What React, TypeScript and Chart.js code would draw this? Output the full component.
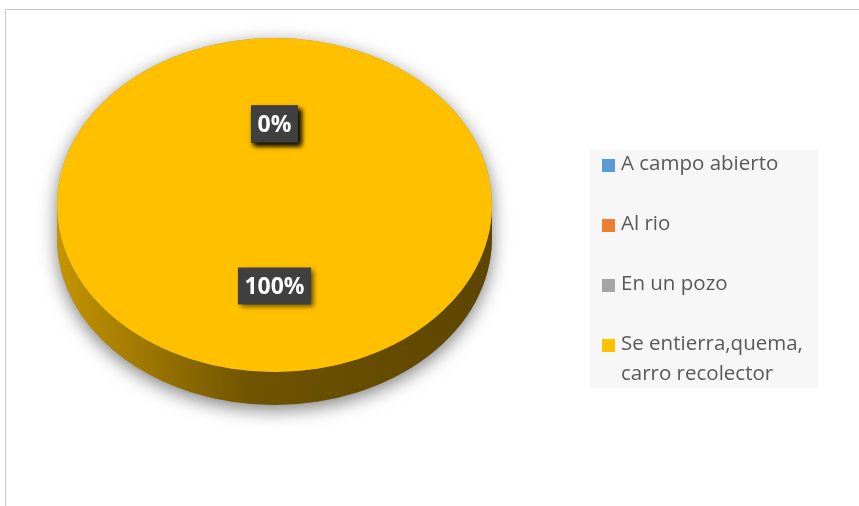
import React, { useEffect, useRef } from "react";
import { Chart, registerables } from "chart.js";

Chart.register(...registerables);

const categories = ["A campo abierto", "Al rio", "En un pozo", "Se entierra,quema, carro recolector"];
const legendLines = [["A campo abierto"], ["Al rio"], ["En un pozo"], ["Se entierra,quema,", "carro recolector"]];
const values = [0, 0, 0, 100];
const colors = ["#5b9bd5", "#ed7d31", "#a5a5a5", "#ffc000"];

const SQUASH = 167 / 217.5;
const ELLIPSE_CY = 205;
const DEPTH = 33;
const LABEL_RADIUS = 0.485;

function shade(hex: string, f: number) {
  const n = parseInt(hex.slice(1), 16);
  const r = Math.round(((n >> 16) & 255) * f);
  const g = Math.round(((n >> 8) & 255) * f);
  const b = Math.round((n & 255) * f);
  return `rgb(${r},${g},${b})`;
}

const pie3d = {
  id: "pie3d",
  beforeDatasetsDraw(chart: any) {
    const ctx: CanvasRenderingContext2D = chart.ctx;
    const arcs = chart.getDatasetMeta(0).data;
    ctx.save();
    if (!arcs.length) return;
    const { x: cx, y: cy, outerRadius: r } = arcs[0];
    const D = DEPTH / SQUASH;
    const applyT = () => {
      ctx.translate(0, ELLIPSE_CY);
      ctx.scale(1, SQUASH);
      ctx.translate(0, -cy);
    };
    // shadow silhouette
    ctx.save();
    applyT();
    ctx.beginPath();
    ctx.arc(cx, cy, r, Math.PI, 2 * Math.PI);
    ctx.arc(cx, cy + D, r, 0, Math.PI);
    ctx.closePath();
    ctx.shadowColor = "rgba(0,0,0,0.5)";
    ctx.shadowBlur = 18;
    ctx.shadowOffsetY = 5;
    ctx.fillStyle = "#888";
    ctx.fill();
    ctx.restore();
    // sides
    ctx.save();
    applyT();
    arcs.forEach((arc: any, i: number) => {
      const s = Math.max(arc.startAngle, 0);
      const e = Math.min(arc.endAngle, Math.PI);
      if (e <= s) return;
      const c = colors[i];
      const grad = ctx.createLinearGradient(cx - r, 0, cx + r, 0);
      grad.addColorStop(0, shade(c, 0.77));
      grad.addColorStop(0.15, shade(c, 0.66));
      grad.addColorStop(0.33, shade(c, 0.52));
      grad.addColorStop(0.45, shade(c, 0.43));
      grad.addColorStop(1, shade(c, 0.36));
      ctx.beginPath();
      ctx.arc(cx, cy, r, s, e);
      ctx.arc(cx, cy + D, r, e, s, true);
      ctx.closePath();
      ctx.fillStyle = grad;
      ctx.fill();
    });
    ctx.restore();
    applyT();
  },
  afterDatasetsDraw(chart: any) {
    const ctx: CanvasRenderingContext2D = chart.ctx;
    ctx.restore();
    const arcs = chart.getDatasetMeta(0).data;
    const total = values.reduce((a, b) => a + b, 0);
    ctx.save();
    ctx.font = "bold 23px 'Open Sans'";
    ctx.textAlign = "center";
    ctx.textBaseline = "middle";
    arcs.forEach((arc: any, i: number) => {
      const mid = (arc.startAngle + arc.endAngle) / 2;
      const px = arc.x + Math.cos(mid) * arc.outerRadius * LABEL_RADIUS;
      const py = ELLIPSE_CY + Math.sin(mid) * arc.outerRadius * LABEL_RADIUS * SQUASH;
      const txt = Math.round((values[i] / total) * 100) + "%";
      const w = ctx.measureText(txt).width + 13;
      const h = 37;
      ctx.save();
      ctx.shadowColor = "rgba(0,0,0,0.6)";
      ctx.shadowBlur = 5;
      ctx.shadowOffsetX = 3;
      ctx.shadowOffsetY = 3;
      ctx.fillStyle = "#404040";
      ctx.fillRect(px - w / 2, py - h / 2, w, h);
      ctx.restore();
      ctx.fillStyle = "#ffffff";
      ctx.fillText(txt, px, py + 1);
    });
    ctx.restore();
  },
};

export default function App() {
  const ref = useRef<HTMLCanvasElement>(null);
  useEffect(() => {
    if (!ref.current) return;
    const chart = new Chart(ref.current, {
      type: "pie",
      data: {
        labels: categories,
        datasets: [
          {
            data: values,
            backgroundColor: colors,
            borderWidth: 0,
            hoverOffset: 0,
            offset: 0,
            clip: false as any,
          },
        ],
      },
      options: {
        responsive: false,
        animation: false,
        layout: { padding: { left: 57, right: 367, top: 35.5, bottom: 35.5 } },
        plugins: { legend: { display: false }, tooltip: { enabled: false } },
      },
      plugins: [pie3d],
    });
    return () => chart.destroy();
  }, []);

  const rowCenters = [[165], [225], [285], [345, 375]];
  return (
    <div style={{ position: "fixed", left: 0, top: 0, width: 859, height: 506, overflow: "hidden", background: "#fff" }}>
      <div style={{ position: "absolute", left: 5, top: 9, width: 900, height: 600, border: "1px solid #c8c8c8" }} />
      <canvas ref={ref} width={859} height={506} style={{ position: "absolute", left: 0, top: 0 }} />
      <div style={{ position: "absolute", left: 590, top: 150, width: 228, height: 238, background: "#f7f7f7" }} />
      {legendLines.map((lines, i) => (
        <React.Fragment key={i}>
          <div
            style={{
              position: "absolute",
              left: 602,
              top: rowCenters[i][0] - 6,
              width: 13,
              height: 13,
              background: colors[i],
            }}
          />
          {lines.map((t, j) => (
            <div
              key={j}
              style={{
                position: "absolute",
                left: 621,
                top: rowCenters[i][j] - 15,
                fontFamily: "'Open Sans'",
                fontSize: 20.5,
                lineHeight: "24px",
                color: "#595959",
                whiteSpace: "nowrap",
              }}
            >
              {t}
            </div>
          ))}
        </React.Fragment>
      ))}
    </div>
  );
}
